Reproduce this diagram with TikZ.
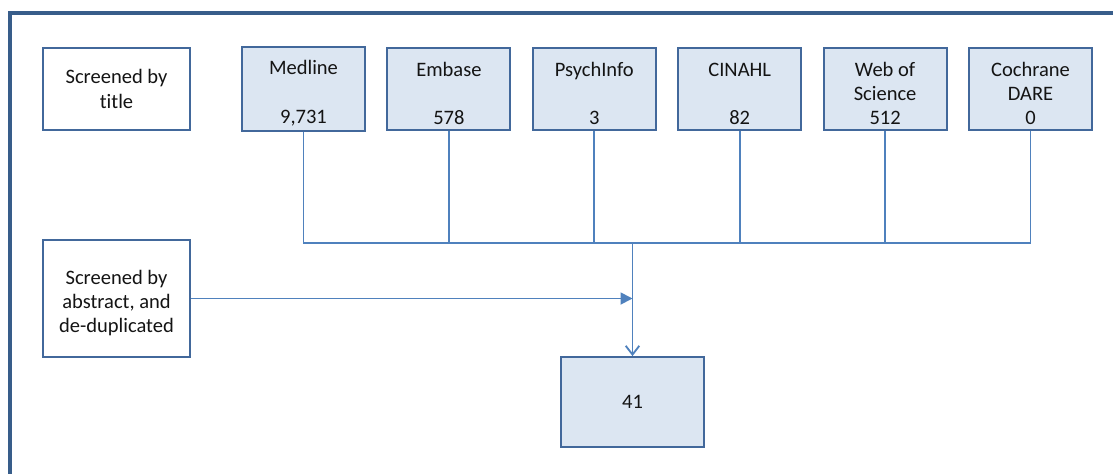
\documentclass[tikz,border=0pt]{standalone}
\usepackage{fontspec}
\setmainfont{Carlito}[Ligatures=CommonOff]
\usepackage{xcolor}
\usetikzlibrary{arrows.meta, positioning, calc}
\definecolor{framebl}{RGB}{56, 93, 138}
\definecolor{boxbl}{RGB}{66, 104, 155}
\definecolor{linebl}{RGB}{79, 129, 189}
\definecolor{boxfill}{RGB}{220, 230, 242}
\definecolor{txtgray}{RGB}{20, 20, 20}
\newcommand{\topgap}{\rule{0pt}{0.58cm}}

\begin{document}
\begin{tikzpicture}[
    stage/.style={rectangle, draw=boxbl, line width=1.3pt, fill=white, minimum width=3.675cm, minimum height=2.05cm, align=center, text=txtgray, font=\fontsize{14.6}{17.3}\selectfont},
    source/.style={rectangle, draw=boxbl, line width=1.3pt, fill=boxfill, minimum width=3.075cm, minimum height=2.05cm, align=center, text=txtgray, font=\fontsize{14.6}{17.3}\selectfont},
    link/.style={draw=linebl, line width=1.3pt}
]
    \useasboundingbox (0, 0) rectangle (27.825, -11.825);
    \clip (0, 0) rectangle (27.825, -11.825);

    % outer frame
    \draw[framebl, line width=2.4pt] (0.25, -0.325) rectangle (28.5, -12.5);

    % screening stages
    \node[stage] (t1) at (2.9125, -2.225) {Screened by\\title};
    \node[stage, minimum height=2.925cm] (t2) at (2.9125, -7.4625) {\topgap Screened by\\abstract, and\\de-duplicated};

    % databases
    \node[source] (s1) at (7.5875, -2.225) {\topgap Medline\\~\\9,731};
    \node[source] (s2) at (11.2225, -2.225) {\topgap Embase\\~\\578};
    \node[source] (s3) at (14.8575, -2.225) {\topgap PsychInfo\\~\\3};
    \node[source] (s4) at (18.4925, -2.225) {\topgap CINAHL\\~\\82};
    \node[source] (s5) at (22.1275, -2.225) {\topgap Web of\\Science\\512};
    \node[source] (s6) at (25.7625, -2.225) {\topgap Cochrane\\DARE\\0};

    % result
    \node[source, minimum width=3.575cm, minimum height=2.25cm] (res) at (15.8125, -10.05) {41};

    % bus line
    \coordinate (bus) at (15.8125, -6.075);
    \draw[link] (s1.south) -- (s1.south |- bus) -- (s6.south |- bus) -- (s6.south);
    \foreach \s in {s2, s3, s4, s5}
        \draw[link] (\s.south) -- (\s.south |- bus);
    \draw[link, -{Straight Barb[length=0.22cm, width=0.34cm, line width=1.3pt]}] (bus) -- (res.north);
    \draw[link, -{Triangle[length=0.3cm, width=0.3cm]}] (t2.east) -- (t2.east -| bus);

\end{tikzpicture}
\end{document}
